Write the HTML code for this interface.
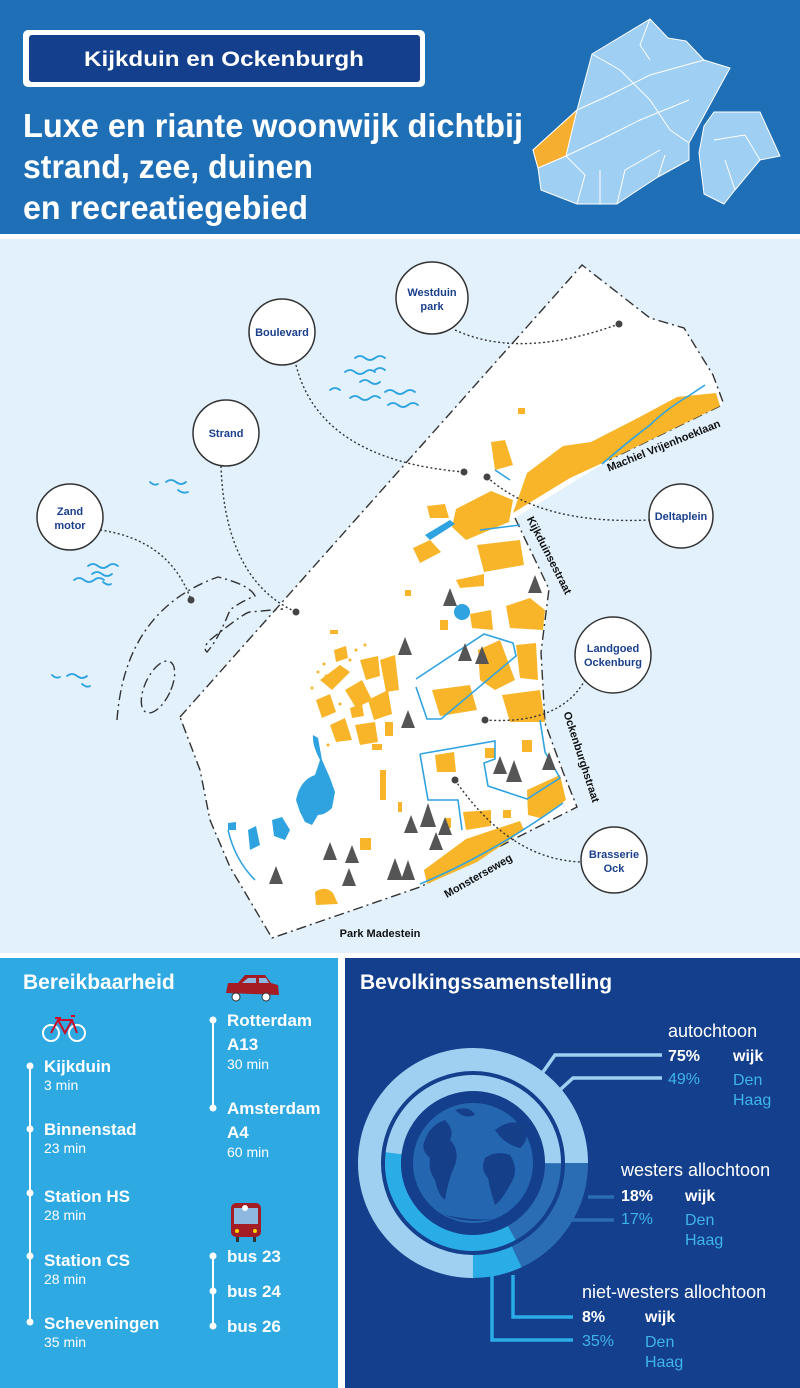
<!DOCTYPE html>
<html><head><meta charset="utf-8"><style>
html,body{margin:0;padding:0;background:#fff}
svg{display:block}
text{font-family:"Liberation Sans",sans-serif}
</style></head><body>
<svg width="800" height="1388" viewBox="0 0 800 1388" xmlns="http://www.w3.org/2000/svg">
<!-- header -->
<rect x="0" y="0" width="800" height="234" fill="#1f6fb6"/>
<rect x="0" y="239" width="800" height="714" fill="#e2f1fb"/>
<rect x="23" y="30" width="402" height="57" rx="5" fill="#fff"/>
<rect x="29" y="35" width="391" height="47" rx="3" fill="#133f8c"/>
<text x="224" y="66" font-size="21" font-weight="bold" fill="#fff" text-anchor="middle" textLength="280" lengthAdjust="spacingAndGlyphs">Kijkduin en Ockenburgh</text>
<g font-size="33" font-weight="bold" fill="#fff">
<text x="23" y="137" textLength="500" lengthAdjust="spacingAndGlyphs">Luxe en riante woonwijk dichtbij</text>
<text x="23" y="178" textLength="290" lengthAdjust="spacingAndGlyphs">strand, zee, duinen</text>
<text x="23" y="219" textLength="285" lengthAdjust="spacingAndGlyphs">en recreatiegebied</text>
</g>
<!-- Den Haag map -->
<g stroke="#fff" stroke-width="1" stroke-linejoin="round">
<path d="M650 19 L668 38 L686 41 L704 60 L730 68 L689 143 L689 160 L658 177 L638 190 L617 204 L577 204 L541 190 L538 168 L533 150 L577 110 L592 54 Z" fill="#9fcff2"/>
<path d="M714 112 L760 112 L780 156 L760 160 L735 190 L724 204 L704 194 L699 153 L704 126 Z" fill="#9fcff2"/>
<path d="M577 110 L566 156 L538 168 L533 150 Z" fill="#f6ae31"/>
<path fill="none" d="M566 156 L600 140 L640 120 L689 100 M577 110 L610 95 L650 75 L704 60 M592 54 L620 70 L650 100 L670 130 L689 143 M617 204 L625 170 L660 150 M650 19 L640 45 L650 60 M600 204 L600 170 M658 177 L665 155 M577 204 L585 175 L566 156 M714 140 L745 135 L760 160 M735 190 L725 160"/>
</g>
<!-- bottom panels -->
<rect x="0" y="958" width="338" height="430" fill="#2ea9e2"/>
<rect x="345" y="958" width="455" height="430" fill="#143f8c"/>

<!-- map white area -->
<path d="M180 717 L582 265 L650 318 L684 328 L713 375 L723 402 L720 406 L609 460 L515 518 L549 589 L541 652 L545 723 L563 772 L577 807 L420 887 L272 938 L230 867 L210 820 L200 770 Z" fill="#fff"/>
<g fill="none" stroke="#333" stroke-width="1.4" stroke-dasharray="10 4 2 4">
<path d="M180 717 L582 265 L650 318 L684 328 L713 375 L723 402"/>
<path d="M720 406 L609 460"/>
<path d="M515 518 L549 589 L541 652 L545 723 L563 772 L577 807 L420 887 L272 938 L230 867 L210 820 L200 770 L180 717"/>
<path d="M117 720 Q125 610 218 577 Q250 585 255 596 Q240 602 230 610 Q218 640 207 652 Q202 648 210 640 Q245 612 250 612 L283 609"/>
<ellipse cx="158" cy="687" rx="13" ry="28" transform="rotate(25 158 687)"/>
</g>
<!-- waves -->
<g fill="none" stroke="#2ea3e0" stroke-width="1.8" stroke-linecap="round">
<path d="M355 358 q5 -4 10 0 q5 4 10 0 q5 -4 10 0 M345 372 q5 -4 10 0 q5 4 10 0 q5 -4 10 0 M360 382 q5 -4 10 0 q5 4 10 0 M350 398 q5 -4 10 0 q5 4 10 0 q5 -4 10 0 M385 392 q5 -4 10 0 q5 4 10 0 q5 -4 10 0 M388 405 q5 -4 10 0 q5 4 10 0 q5 -4 10 0 M330 390 q5 -4 10 0 M375 370 q5 -4 10 0"/>
<path d="M150 482 q4 4 8 2 M166 482 q5 -4 10 0 q5 4 10 0 M178 490 q5 4 10 2"/>
<path d="M88 566 q5 -4 10 0 q5 4 10 0 q5 -4 10 0 M92 574 q5 -4 10 0 q5 4 10 0 M74 580 q5 -4 10 0 q5 4 10 0 q5 -4 10 0 M103 582 q5 4 8 2"/>
<path d="M52 675 q4 4 8 2 M67 676 q5 -4 10 0 q5 4 10 0 M82 684 q5 4 8 2"/>
</g>
<!-- yellow buildings -->
<g fill="#f8b52a">
<path d="M513 513 L527 473 L563 446 L591 442 L634 420 L677 397 L716 393 L720 406 L609 460 L570 478 L534 500 Z"/>
<path d="M456 509 L491 491 L513 500 L509 522 L466 540 L452 527 Z"/>
<path d="M477 545 L520 540 L524 565 L484 572 Z"/>
<path d="M491 442 L505 440 L513 465 L495 470 Z"/>
<path d="M413 548 L430 540 L441 552 L420 563 Z"/>
<path d="M427 506 L445 504 L449 518 L430 518 Z"/>
<rect x="518" y="408" width="7" height="6"/>
<path d="M456 580 L484 574 L484 586 L460 588 Z"/>
<path d="M470 614 L491 610 L493 630 L472 628 Z"/>
<path d="M506 606 L530 598 L545 610 L543 630 L510 628 Z"/>
<path d="M516 645 L536 643 L538 680 L520 678 Z"/>
<path d="M478 650 L500 640 L515 680 L495 690 L480 680 Z"/>
<path d="M432 690 L470 685 L477 710 L440 716 Z"/>
<path d="M502 695 L540 690 L545 722 L510 722 Z"/>
<path d="M527 790 L560 775 L566 800 L540 818 L528 815 Z"/>
<path d="M424 870 L466 839 L520 821 L524 830 L477 862 L427 884 Z"/>
<path d="M463 812 L491 810 L491 826 L466 830 Z"/>
<path d="M315 892 Q325 885 333 893 L338 904 L316 905 Z"/>
<rect x="360" y="838" width="11" height="12"/>
<path d="M435 755 L454 752 L456 772 L437 772 Z"/>
<rect x="398" y="802" width="4" height="10"/>
<rect x="503" y="810" width="8" height="8"/>
<rect x="522" y="740" width="10" height="12"/>
<rect x="485" y="748" width="10" height="10"/>
<path d="M350 708 L362 704 L364 716 L352 718 Z"/>
<path d="M320 680 L340 665 L350 672 L332 690 Z"/>
<path d="M316 700 L330 694 L336 712 L322 718 Z"/>
<path d="M330 725 L345 718 L352 740 L336 742 Z"/>
<path d="M345 690 L362 680 L372 700 L356 708 Z"/>
<path d="M360 660 L378 656 L380 676 L366 680 Z"/>
<path d="M368 700 L388 690 L392 714 L374 720 Z"/>
<path d="M380 660 L395 655 L399 690 L386 692 Z"/>
<path d="M355 725 L375 722 L378 742 L360 745 Z"/>
<path d="M334 650 L346 646 L348 658 L336 662 Z"/>
<rect x="385" y="722" width="8" height="14"/>
<rect x="372" y="744" width="10" height="6"/>
<rect x="440" y="620" width="8" height="10"/>
<rect x="405" y="590" width="6" height="6"/>
<rect x="330" y="630" width="8" height="4"/>
<rect x="445" y="818" width="6" height="10"/>
<rect x="380" y="770" width="6" height="30"/>
</g>
<g fill="#f8b52a">
<circle cx="324" cy="664" r="1.5"/><circle cx="318" cy="672" r="1.5"/><circle cx="326" cy="676" r="1.5"/><circle cx="312" cy="688" r="1.5"/><circle cx="340" cy="704" r="1.5"/><circle cx="350" cy="660" r="1.5"/><circle cx="356" cy="650" r="1.5"/><circle cx="365" cy="645" r="1.5"/><circle cx="320" cy="706" r="1.5"/><circle cx="328" cy="745" r="1.5"/>
</g>
<!-- blue water -->
<g fill="#2fa3e0">
<path d="M296 800 Q300 780 315 775 L320 760 Q312 745 313 735 L318 738 L322 760 L330 778 L335 792 L332 808 Q325 815 318 815 L312 825 L305 822 L300 812 Z"/>
<path d="M272 820 L282 817 L290 830 L285 840 L274 836 Z"/>
<path d="M248 830 L256 826 L260 845 L250 850 Z"/>
<path d="M228 823 L236 822 L236 830 L228 830 Z"/>
<path d="M462 612 m-8 0 a8 8 0 1 0 16 0 a8 8 0 1 0 -16 0 Z"/>
<path d="M425 535 L450 520 L455 524 L430 540 Z"/>
</g>
<g fill="none" stroke="#2fa3e0" stroke-width="1.6">
<path d="M602 464 Q630 440 650 425 Q665 410 690 395 L705 385"/>
<path d="M416 679 L484 634 L513 643 L516 656 L441 719 L427 719 L416 687"/>
<path d="M420 754 L495 741 L495 759 L484 763 L488 786 L527 799 L560 778 L545 752 L540 720"/>
<path d="M420 754 L428 800 L458 800 L462 830"/>
<path d="M420 884 Q490 855 563 803"/>
<path d="M228 830 Q235 860 255 880"/>
<path d="M480 530 L520 525 M495 470 L510 480"/>
</g>
<!-- trees -->
<g fill="#555">
<path d="M450 588 l-7 18 h14 Z M535 575 l-7 18 h14 Z M405 637 l-7 18 h14 Z M465 643 l-7 18 h14 Z M482 646 l-7 18 h14 Z M408 710 l-7 18 h14 Z M500 756 l-7 18 h14 Z M514 760 l-8 22 h16 Z M549 752 l-7 18 h14 Z M411 815 l-7 18 h14 Z M428 803 l-8 24 h16 Z M445 817 l-7 18 h14 Z M436 832 l-7 18 h14 Z M330 842 l-7 18 h14 Z M352 845 l-7 18 h14 Z M349 868 l-7 18 h14 Z M276 866 l-7 18 h14 Z M395 858 l-8 22 h16 Z M408 860 l-7 20 h14 Z"/>
</g>
<!-- connectors -->
<g fill="none" stroke="#333" stroke-width="1.4" stroke-dasharray="2 2.5">
<path d="M455 330 Q520 360 619 324"/>
<path d="M296 365 Q320 460 464 472"/>
<path d="M221 466 Q225 580 296 612"/>
<path d="M100 530 Q170 540 191 600"/>
<path d="M487 477 Q540 525 649 520"/>
<path d="M485 720 Q560 725 585 680"/>
<path d="M455 780 Q510 860 582 862"/>
</g>
<g fill="#444">
<circle cx="619" cy="324" r="3.5"/><circle cx="464" cy="472" r="3.5"/><circle cx="296" cy="612" r="3.5"/><circle cx="191" cy="600" r="3.5"/><circle cx="487" cy="477" r="3.5"/><circle cx="485" cy="720" r="3.5"/><circle cx="455" cy="780" r="3.5"/>
</g>
<g fill="#fff" stroke="#333" stroke-width="1.5">
<circle cx="432" cy="298" r="36"/><circle cx="282" cy="332" r="33"/><circle cx="226" cy="433" r="33"/><circle cx="70" cy="517" r="33"/><circle cx="681" cy="516" r="32"/><circle cx="613" cy="655" r="38"/><circle cx="614" cy="860" r="33"/>
</g>
<g font-size="11" font-weight="bold" fill="#1a3f8c" text-anchor="middle">
<text x="432" y="296">Westduin</text><text x="432" y="310">park</text>
<text x="282" y="336">Boulevard</text>
<text x="226" y="437">Strand</text>
<text x="70" y="515">Zand</text><text x="70" y="529">motor</text>
<text x="681" y="520">Deltaplein</text>
<text x="613" y="652">Landgoed</text><text x="613" y="666">Ockenburg</text>
<text x="614" y="858">Brasserie</text><text x="614" y="872">Ock</text>
</g>
<g font-size="11" font-weight="bold" fill="#111" text-anchor="middle">
<text transform="translate(665 449) rotate(-22)">Machiel Vrijenhoeklaan</text>
<text transform="translate(546 557) rotate(63)">Kijkduinsestraat</text>
<text transform="translate(578 758) rotate(72)">Ockenburghstraat</text>
<text transform="translate(480 879) rotate(-30)">Monsterseweg</text>
<text x="380" y="937">Park Madestein</text>
</g>

<!-- Bereikbaarheid -->
<g fill="#fff">
<text x="23" y="989" font-size="21" font-weight="bold">Bereikbaarheid</text>
<rect x="29" y="1066" width="2" height="256"/>
<circle cx="30" cy="1066" r="3.5"/><circle cx="30" cy="1129" r="3.5"/><circle cx="30" cy="1193" r="3.5"/><circle cx="30" cy="1256" r="3.5"/><circle cx="30" cy="1322" r="3.5"/>
<rect x="212" y="1020" width="2" height="88"/>
<circle cx="213" cy="1020" r="3.5"/><circle cx="213" cy="1108" r="3.5"/>
<rect x="212" y="1256" width="2" height="70"/>
<circle cx="213" cy="1256" r="3.5"/><circle cx="213" cy="1291" r="3.5"/><circle cx="213" cy="1326" r="3.5"/>
<g font-size="17" font-weight="bold">
<text x="44" y="1072">Kijkduin</text><text x="44" y="1135">Binnenstad</text><text x="44" y="1202">Station HS</text><text x="44" y="1266">Station CS</text><text x="44" y="1329">Scheveningen</text>
<text x="227" y="1026">Rotterdam</text><text x="227" y="1050">A13</text>
<text x="227" y="1114">Amsterdam</text><text x="227" y="1138">A4</text>
<text x="227" y="1262">bus 23</text><text x="227" y="1297">bus 24</text><text x="227" y="1332">bus 26</text>
</g>
<g font-size="14">
<text x="44" y="1090">3 min</text><text x="44" y="1153">23 min</text><text x="44" y="1220">28 min</text><text x="44" y="1284">28 min</text><text x="44" y="1347">35 min</text>
<text x="227" y="1069">30 min</text><text x="227" y="1157">60 min</text>
</g>
</g>
<!-- bike -->
<g fill="none" stroke="#fff" stroke-width="2"><circle cx="51" cy="1033" r="8"/><circle cx="77" cy="1033" r="8"/></g>
<g fill="none" stroke="#c8102e" stroke-width="2"><path d="M51 1033 L58 1020 L72 1020 L77 1033 M58 1020 L65 1033 L72 1020 M55 1018 h6 M71 1016 l4 0"/></g>
<!-- car -->
<path d="M226 993 L228 983 L238 983 L245 975 L265 975 L271 983 L278 985 L279 995 Z" fill="#a51d24"/>
<path d="M242 983 L248 978 L256 978 L256 983 Z M259 978 L266 978 L269 983 L259 983 Z" fill="#8fb8e0"/>
<circle cx="236" cy="997" r="4" fill="#fff" stroke="#333"/><circle cx="266" cy="997" r="4" fill="#fff" stroke="#333"/>
<!-- bus -->
<rect x="231" y="1203" width="30" height="34" rx="5" fill="#a51d24"/>
<rect x="234" y="1208" width="24" height="16" fill="#8fb8e0"/>
<circle cx="245" cy="1208" r="3" fill="#fff"/>
<circle cx="237" cy="1231" r="2" fill="#ffd400"/><circle cx="255" cy="1231" r="2" fill="#ffd400"/>
<rect x="236" y="1237" width="3" height="5" fill="#333"/><rect x="253" y="1237" width="3" height="5" fill="#333"/>

<!-- Bevolkingssamenstelling -->
<text x="360" y="989" font-size="21" font-weight="bold" fill="#fff">Bevolkingssamenstelling</text>
<circle cx="473" cy="1163" r="60" fill="#2467b0"/>
<g fill="#163f8a">
<path d="M425 1140 Q430 1125 445 1120 Q455 1130 450 1140 Q460 1150 455 1165 Q448 1180 445 1200 Q438 1195 435 1180 Q428 1170 430 1158 Q420 1150 425 1140 Z"/>
<path d="M485 1158 Q495 1150 510 1155 Q520 1170 510 1185 Q502 1200 495 1205 Q490 1190 488 1178 Q480 1170 485 1158 Z"/>
<path d="M495 1130 Q510 1118 525 1125 Q530 1140 520 1148 Q505 1145 495 1130 Z"/>
<path d="M455 1110 Q470 1105 475 1115 Q465 1120 455 1110 Z"/>
<path d="M445 1215 Q470 1225 495 1218 Q480 1222 445 1215 Z"/>
</g>
<g fill="none">
<circle cx="473" cy="1163" r="103.5" stroke="#9fd0f2" stroke-width="23" stroke-dasharray="487.7 1000" transform="rotate(90 473 1163)"/>
<circle cx="473" cy="1163" r="103.5" stroke="#2b6db5" stroke-width="23" stroke-dasharray="117.4 1000"/>
<circle cx="473" cy="1163" r="103.5" stroke="#2aace6" stroke-width="23" stroke-dasharray="45.2 1000" transform="rotate(65 473 1163)"/>
<circle cx="473" cy="1163" r="80" stroke="#2b6db5" stroke-width="16" stroke-dasharray="85.5 1000"/>
<circle cx="473" cy="1163" r="80" stroke="#2aace6" stroke-width="16" stroke-dasharray="176 1000" transform="rotate(61 473 1163)"/>
<circle cx="473" cy="1163" r="80" stroke="#9fd0f2" stroke-width="16" stroke-dasharray="241.6 1000" transform="rotate(187 473 1163)"/>
</g>
<g fill="none" stroke-width="3.5">
<path d="M543 1072 L555 1055 L662 1055" stroke="#9fd0f2"/>
<path d="M548 1103 L562 1088 L573 1078 L662 1078" stroke="#9fd0f2"/>
<path d="M588 1197 L614 1197" stroke="#2b6db5"/>
<path d="M548 1220 L614 1220" stroke="#2b6db5"/>
<path d="M513 1275 L513 1317 L573 1317" stroke="#2aace6"/>
<path d="M492 1257 L492 1340 L573 1340" stroke="#2aace6"/>
</g>
<g font-size="18" fill="#fff">
<text x="668" y="1037">autochtoon</text>
<text x="621" y="1176">westers allochtoon</text>
<text x="582" y="1298">niet-westers allochtoon</text>
</g>
<g font-size="16" font-weight="bold" fill="#fff">
<text x="668" y="1061">75%</text><text x="733" y="1061">wijk</text>
<text x="621" y="1201">18%</text><text x="685" y="1201">wijk</text>
<text x="582" y="1322">8%</text><text x="645" y="1322">wijk</text>
</g>
<g font-size="16" fill="#3fb3ec">
<text x="668" y="1084">49%</text><text x="733" y="1085">Den</text><text x="733" y="1105">Haag</text>
<text x="621" y="1224">17%</text><text x="685" y="1225">Den</text><text x="685" y="1245">Haag</text>
<text x="582" y="1346">35%</text><text x="645" y="1347">Den</text><text x="645" y="1367">Haag</text>
</g>
</svg>
</body></html>
